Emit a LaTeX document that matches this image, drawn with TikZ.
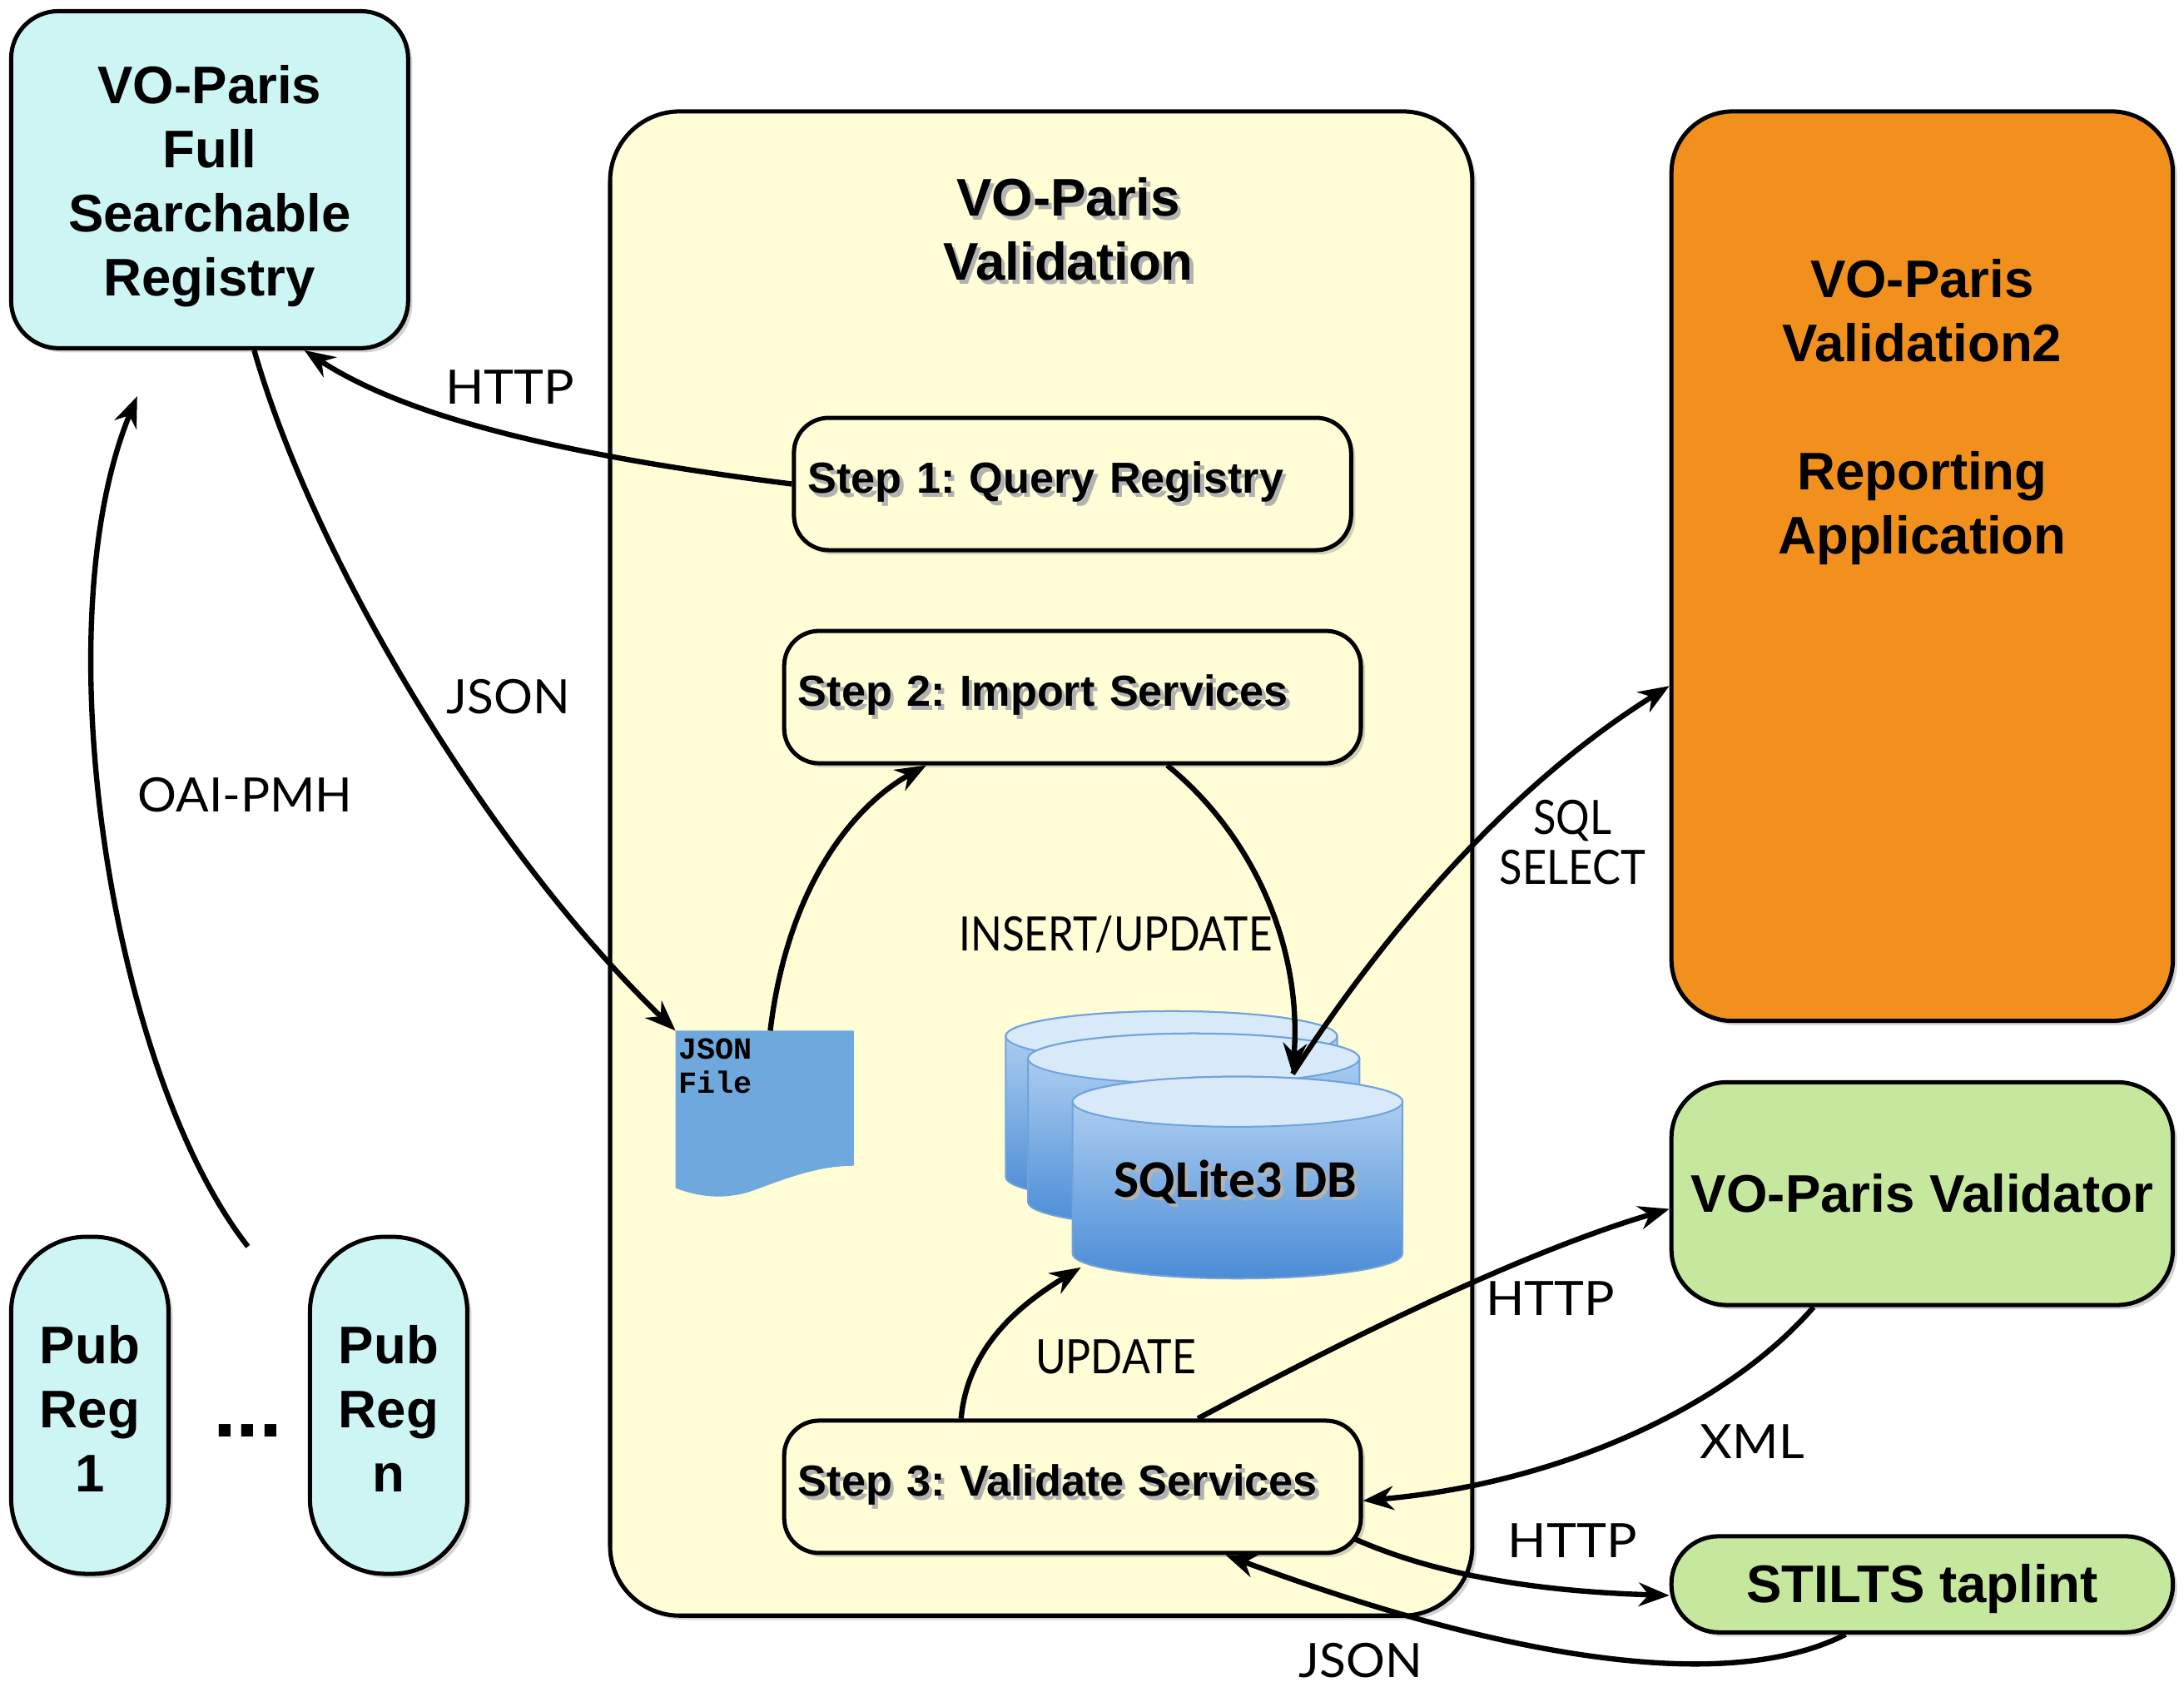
\documentclass[tikz,border=0pt]{standalone}
\usepackage{fontspec}
\usepackage{graphicx}
\setmainfont{Liberation Sans}
\newfontfamily\lblfont{Lato}
\newfontfamily\dbfont{Carlito}
\newfontfamily\jfont{Liberation Mono}
\usetikzlibrary{arrows.meta,shadows}
\definecolor{regcyan}{HTML}{CCF5F4}
\definecolor{valyellow}{HTML}{FFFDD6}
\definecolor{reporange}{HTML}{F2901E}
\definecolor{valgreen}{HTML}{C5E79E}
\definecolor{docblue}{HTML}{6FA8DC}
\definecolor{dbtopc}{HTML}{D8E9FA}
\definecolor{dbmid}{HTML}{B9D6F4}
\definecolor{dbbot}{HTML}{4A8CD6}
\definecolor{dbedge}{HTML}{6FA3DA}
\frenchspacing
\newcommand{\tsh}[1]{\makebox[0pt][l]{\hspace{1.3pt}\raisebox{-1.3pt}{\textcolor{black!30}{#1}}}#1}
\newcommand{\bigb}{\fontsize{19}{23}\selectfont\bfseries}
\newcommand{\hsc}[2]{\scalebox{#1}[1]{#2}}
% lower the visible text by half of #1 inside a centred node
\newcommand{\lowr}[2]{\raisebox{0pt}[\dimexpr\height+#1\relax][\depth]{#2}}
\begin{document}
\begin{tikzpicture}[x=0.5pt,y=-0.5pt,
  box/.style={draw=black, line width=1.5pt, drop shadow={opacity=0.35, shadow xshift=1.5pt, shadow yshift=-1.5pt}},
  stepbox/.style={box, fill=valyellow, minimum height=47.5pt, rounded corners=12.5pt, align=left, inner xsep=5pt, font=\fontsize{15.6}{19}\selectfont\bfseries},
  pubbox/.style={box, fill=regcyan, minimum width=56.5pt, minimum height=121pt, rounded corners=27pt, align=center, font=\bigb},
  lbl/.style={font=\fontsize{17}{18}\selectfont\lblfont, align=center, inner sep=0pt},
  arr/.style={line width=1.9pt, -{Stealth[length=11pt, width=8.5pt]}},
  cylbody/.style={top color=dbmid, bottom color=dbbot, draw=dbedge, line width=0.6pt},
  cyltop/.style={fill=dbtopc, draw=dbedge, line width=0.6pt}
]
\useasboundingbox (0,0) rectangle (1568,1211);

% main boxes
\node[box, fill=regcyan, minimum width=142.5pt, minimum height=121pt, rounded corners=17pt, align=center, font=\bigb] (reg) at (150.5,129) {\lowr{5pt}{\begin{tabular}{@{}c@{}}VO-Paris\\Full\\Searchable\\Registry\end{tabular}}};
\node[box, fill=valyellow, minimum width=309.5pt, minimum height=540pt, rounded corners=25pt] (cont) at (747.5,620) {};
\node[font=\bigb, align=center] (title) at (767,166) {\tsh{VO-Paris}\\\tsh{Validation}};
\node[stepbox, minimum width=200pt, text width=190pt] (s1) at (770,347.5) {\tsh{Step 1: Query Registry}};
\node[stepbox, minimum width=207pt, text width=197pt] (s2) at (770,500.5) {\tsh{Step 2: Import Services}};
\node[stepbox, minimum width=207pt, text width=197pt] (s3) at (770,1067.5) {\tsh{Step 3: Validate Services}};

\node[box, fill=reporange, minimum width=180pt, minimum height=326.5pt, rounded corners=22pt] (rep) at (1380,406.5) {};
\node[font=\bigb, align=center] (reptext) at (1380,296) {VO-Paris\\Validation2\\[23pt]Reporting\\Application};
\node[box, fill=valgreen, minimum width=180pt, minimum height=80pt, rounded corners=20pt, inner sep=2pt, font=\bigb] (val) at (1380,857) {VO-Paris Validator};
\node[box, fill=valgreen, minimum width=180pt, minimum height=34.5pt, rounded corners=17pt, font=\bigb] (stl) at (1380,1137.5) {\lowr{3pt}{STILTS taplint}};

\node[pubbox] (pr1) at (64.5,1009) {\lowr{7pt}{\begin{tabular}{@{}c@{}}Pub\\Reg\\1\end{tabular}}};
\node[pubbox] (prn) at (279,1009) {\lowr{7pt}{\begin{tabular}{@{}c@{}}Pub\\Reg\\n\end{tabular}}};
\node[font=\fontsize{30}{30}\selectfont\bfseries, inner sep=0pt] (dots) at (178,1027) {...};

% JSON file document
\fill[docblue] (485,740) -- (613,740) -- (613,837) .. controls (585,837) and (560,848) .. (540,855) .. controls (520,862) and (500,859) .. (485,853) -- cycle;
\node[font=\fontsize{11}{12.5}\selectfont\jfont\bfseries, align=left, anchor=north west, inner sep=0pt] (jf) at (487,745) {JSON\\File};
\coordinate (jftl) at (485,740);
\coordinate (jftop) at (553,740);

% database cylinders
\shade[cylbody] (722,744) -- (722,845) arc[start angle=180, end angle=0, x radius=119, y radius=18] -- (960,744) arc[start angle=0, end angle=-180, x radius=119, y radius=18] -- cycle;
\filldraw[cyltop] (841,744) ellipse[x radius=119, y radius=18];
\shade[cylbody] (738,760) -- (738,863) arc[start angle=180, end angle=0, x radius=119, y radius=18] -- (976,760) arc[start angle=0, end angle=-180, x radius=119, y radius=18] -- cycle;
\filldraw[cyltop] (857,760) ellipse[x radius=119, y radius=18];
\shade[cylbody] (770,791) -- (770,900) arc[start angle=180, end angle=0, x radius=118.5, y radius=18] -- (1007,791) arc[start angle=0, end angle=-180, x radius=118.5, y radius=18] -- cycle;
\filldraw[cyltop] (888.5,791) ellipse[x radius=118.5, y radius=18];
\node[font=\fontsize{19}{23}\selectfont\dbfont\bfseries] (db) at (887,850) {\tsh{SQLite3 DB}};
\coordinate (dbtop) at (928,771);
\coordinate (dbbl) at (776,910);
\coordinate (oaistart) at (178,895);

% connectors
\draw[arr] (s1.west) .. controls (430,330) and (300,305) .. ([xshift=34pt]reg.south);
\draw[arr] ([xshift=16pt]reg.south) .. controls (225,400) and (350,610) .. (jftl);
\draw[arr] (oaistart) .. controls (80,770) and (30,450) .. ([xshift=46pt,yshift=-16.5pt]reg.south west);
\draw[arr] (jftop) .. controls (565,640) and (610,580) .. ([xshift=-52.5pt]s2.south);
\draw[arr] ([xshift=34pt]s2.south) .. controls (900,600) and (935,680) .. (dbtop);
\draw[arr] (dbtop) .. controls (1000,660) and (1090,560) .. ([yshift=-43pt]rep.west);
\draw[arr] ([xshift=-40pt]s3.north) .. controls (695,965) and (735,935) .. (dbbl);
\draw[arr] ([xshift=45pt]s3.north) .. controls (960,965) and (1090,900) .. ([yshift=-5.5pt]val.west);
\draw[arr] ([xshift=-39pt]val.south) .. controls (1240,1010) and (1120,1065) .. ([yshift=-5pt]s3.east);
\draw[arr] ([xshift=-3.5pt,yshift=6pt]s3.south east) .. controls (1040,1135) and (1120,1143) .. ([yshift=-4pt]stl.west);
\draw[arr] ([xshift=-27.5pt]stl.south) .. controls (1230,1222) and (1050,1180) .. ([xshift=55pt]s3.south);

% labels
\node[lbl] (l1) at (366,278) {\hsc{1.07}{HTTP}};
\node[lbl] (l2) at (365,500) {\hsc{1.03}{JSON}};
\node[lbl] (l3) at (176,571) {\hsc{1.03}{OAI-PMH}};
\node[lbl] (l4) at (801,671) {\hsc{0.87}{INSERT/UPDATE}};
\node[lbl] (l5) at (1129,605) {\hsc{0.89}{SQL}\\\hsc{0.89}{SELECT}};
\node[lbl] (l6) at (801,974) {\hsc{0.88}{UPDATE}};
\node[lbl] (l7) at (1113,932) {\hsc{1.07}{HTTP}};
\node[lbl] (l8) at (1258,1035) {\hsc{1.05}{XML}};
\node[lbl] (l9) at (1129,1106) {\hsc{1.07}{HTTP}};
\node[lbl] (l10) at (977,1192) {\hsc{1.03}{JSON}};
\end{tikzpicture}
\end{document}
